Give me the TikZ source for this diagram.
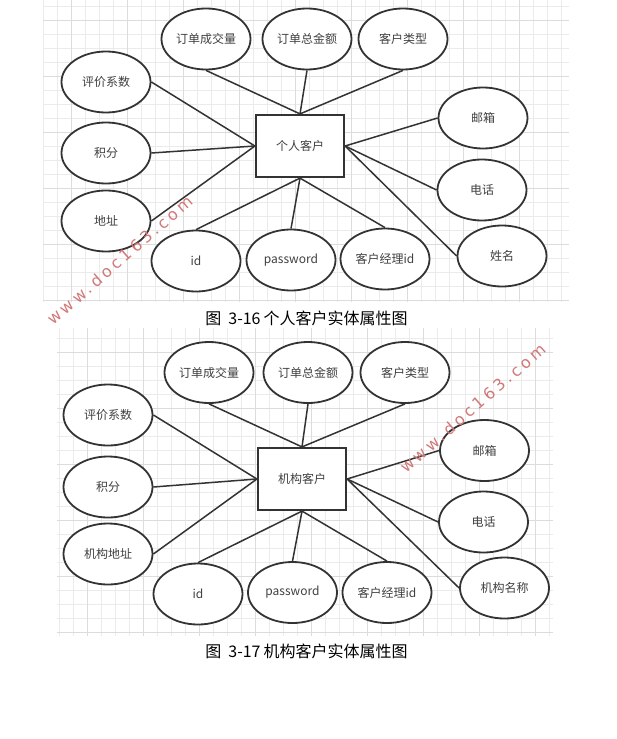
\documentclass[tikz,border=0pt]{standalone}
\usepackage{fontspec}
\setmainfont{Noto Sans CJK SC}
\newfontfamily\wmfont[LetterSpace=22]{DejaVu Sans}
\usetikzlibrary{shapes.geometric}
\definecolor{gridminor}{HTML}{EBEBEB}
\definecolor{gridmajor}{HTML}{DCDCDC}
\definecolor{erline}{HTML}{333333}
\definecolor{ertext}{HTML}{404040}
\definecolor{wmred}{HTML}{D27878}
\tikzset{
  erent/.style={draw=erline, line width=2.2pt, minimum width=88pt, minimum height=62pt, inner sep=0pt, fill=white, text=ertext, font=\fontsize{12}{14}\selectfont},
  erattr/.style={ellipse, draw=erline, line width=1.8pt, minimum width=89pt, minimum height=61pt, inner sep=0pt, fill=white, text=ertext, font=\fontsize{12}{14}\selectfont},
  erlink/.style={draw=erline, line width=1.5pt},
  gridthin/.style={draw=gridminor, line width=0.8pt},
  gridthick/.style={draw=gridmajor, line width=0.8pt},
  figcap/.style={text=black, font=\fontsize{16}{18}\selectfont},
  wmark/.style={text=wmred, rotate=41, font=\wmfont\fontsize{16}{18}\selectfont}
}

\begin{document}
\begin{tikzpicture}[x=1pt,y=-1pt]

  \fill[white] (0,0) rectangle (617,739);
  \useasboundingbox (0,0) rectangle (617,739);

  % grid, fig 3-16
  \foreach \k in {0,...,37} \draw[gridthin] (43.3+14*\k,0) -- (43.3+14*\k,302);
  \foreach \k in {0,...,21} \draw[gridthin] (43,6.7+14*\k) -- (569,6.7+14*\k);
  \foreach \k in {0,...,8} \draw[gridthick] (71.3+56*\k,0) -- (71.3+56*\k,302);
  \foreach \k in {0,...,5} \draw[gridthick] (43,20.7+56*\k) -- (569,20.7+56*\k);

  % grid, fig 3-17
  \foreach \k in {0,...,35} \draw[gridthin] (59+14*\k,328) -- (59+14*\k,636);
  \foreach \k in {0,...,21} \draw[gridthin] (57,338+14*\k) -- (553,338+14*\k);
  \foreach \k in {0,...,8} \draw[gridthick] (87+56*\k,328) -- (87+56*\k,636);
  \foreach \k in {0,...,5} \draw[gridthick] (57,352+56*\k) -- (553,352+56*\k);

  % nodes, fig 3-16
  \node[erent] (enta) at (300,146) {个人客户};

  \node[erattr] (cjla) at (206,39) {订单成交量};
  \node[erattr] (zjea) at (307,39) {订单总金额};
  \node[erattr] (lxa)  at (403,39) {客户类型};

  \node[erattr] (pja) at (106,82)  {评价系数};
  \node[erattr] (jfa) at (106,153) {积分};
  \node[erattr] (dza) at (106,221) {地址};

  \node[erattr] (ida) at (196,261) {id};
  \node[erattr] (pwa) at (291,260) {password};
  \node[erattr] (jla) at (385,259) {客户经理id};

  \node[erattr] (yxa) at (483,118) {邮箱};
  \node[erattr] (dha) at (482,190) {电话};
  \node[erattr] (xma) at (502,256) {姓名};

  \node[figcap] (capa) at (306.5,318) {图\hspace{7pt}3-16\hspace{3pt}个人客户实体属性图};

  % nodes, fig 3-17
  \node[erent] (entb) at (302,479) {机构客户};

  \node[erattr] (cjlb) at (209,372.5) {订单成交量};
  \node[erattr] (zjeb) at (308,372.5) {订单总金额};
  \node[erattr] (lxb)  at (405,372.5) {客户类型};

  \node[erattr] (pjb) at (108,415) {评价系数};
  \node[erattr] (jfb) at (108,487) {积分};
  \node[erattr] (dzb) at (108,554) {机构地址};

  \node[erattr] (idb) at (198,594)   {id};
  \node[erattr] (pwb) at (292.5,592.5) {password};
  \node[erattr] (jlb) at (387,592.5) {客户经理id};

  \node[erattr] (yxb) at (484.5,450.5) {邮箱};
  \node[erattr] (dhb) at (483.5,522)   {电话};
  \node[erattr] (xmb) at (504.5,588)   {机构名称};

  \node[figcap] (capb) at (306.5,651) {图\hspace{7pt}3-17\hspace{3pt}机构客户实体属性图};

  % links, fig 3-16
  \draw[erlink] (pja.east) -- (enta.west);
  \draw[erlink] (jfa.east) -- (enta.west);
  \draw[erlink] (dza.east) -- (enta.west);
  \draw[erlink] (cjla.south) -- (enta.north);
  \draw[erlink] (zjea.south) -- (enta.north);
  \draw[erlink] (lxa.south) -- (enta.north);
  \draw[erlink] (yxa.west) -- (enta.east);
  \draw[erlink] (dha.west) -- (enta.east);
  \draw[erlink] (xma.west) -- (enta.east);
  \draw[erlink] (ida.north) -- (enta.south);
  \draw[erlink] (pwa.north) -- (enta.south);
  \draw[erlink] (jla.north) -- (enta.south);

  % links, fig 3-17
  \draw[erlink] (pjb.east) -- (entb.west);
  \draw[erlink] (jfb.east) -- (entb.west);
  \draw[erlink] (dzb.east) -- (entb.west);
  \draw[erlink] (cjlb.south) -- (entb.north);
  \draw[erlink] (zjeb.south) -- (entb.north);
  \draw[erlink] (lxb.south) -- (entb.north);
  \draw[erlink] (yxb.west) -- (entb.east);
  \draw[erlink] (dhb.west) -- (entb.east);
  \draw[erlink] (xmb.west) -- (entb.east);
  \draw[erlink] (idb.north) -- (entb.south);
  \draw[erlink] (pwb.north) -- (entb.south);
  \draw[erlink] (jlb.north) -- (entb.south);

  % watermarks
  \node[wmark] (wma) at (120,260) {www.doc163.com};
  \node[wmark] (wmb) at (473,408) {www.doc163.com};

\end{tikzpicture}
\end{document}
